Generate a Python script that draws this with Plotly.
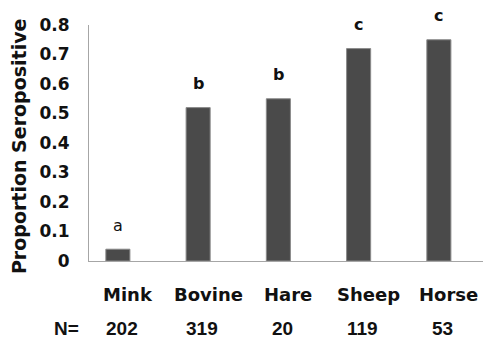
import plotly.graph_objects as go

# ---- data ----
categories = ["Mink", "Bovine", "Hare", "Sheep", "Horse"]
proportions = [0.04, 0.52, 0.55, 0.72, 0.75]
group_letters = ["a", "b", "b", "c", "c"]
sample_sizes = ["202", "319", "20", "119", "53"]
y_ticks = [0, 0.1, 0.2, 0.3, 0.4, 0.5, 0.6, 0.7, 0.8]
y_ticktext = ["0", "0.1", "0.2", "0.3", "0.4", "0.5", "0.6", "0.7", "0.8"]

# ---- style ----
letter_weights = ["normal", "bold", "bold", "bold", "bold"]
BOLD = "DejaVu Sans"

fig = go.Figure()
fig.add_trace(go.Bar(
    x=categories, y=proportions,
    marker=dict(color="#4a4a4a", line=dict(color="#8a8a8a", width=1)),
    hoverinfo="skip",
))

annotations = []
for cat, val, let, w in zip(categories, proportions, group_letters, letter_weights):
    annotations.append(dict(
        x=cat, y=val, xref="x", yref="y", text=let, showarrow=False,
        yanchor="middle", yshift=24,
        font=dict(family=BOLD, size=16, color="#111111", weight=w),
    ))
for cat in categories:
    annotations.append(dict(
        x=cat, y=0, xref="x", yref="paper", text=cat, showarrow=False,
        yanchor="middle", yshift=-33, xshift=10,
        font=dict(family=BOLD, size=18, color="#111111", weight="bold"),
    ))
for cat, n in zip(categories, sample_sizes):
    annotations.append(dict(
        x=cat, y=0, xref="x", yref="paper", text=n, showarrow=False,
        yanchor="middle", yshift=-67, xshift=4, borderpad=0,
        font=dict(family="Liberation Sans", size=19, color="#111111", weight="bold"),
    ))
annotations.append(dict(
    x=-0.36, y=0, xref="x", yref="paper", text="N=", showarrow=False,
    yanchor="middle", yshift=-67, xshift=-23, borderpad=0,
    font=dict(family="Liberation Sans", size=19, color="#111111", weight="bold"),
))
annotations.append(dict(
    x=-0.1777, y=0.487, xref="paper", yref="paper", text="Proportion Seropositive",
    showarrow=False, textangle=-90, xanchor="center", yanchor="middle",
    font=dict(family=BOLD, size=19, color="#111111", weight="bold"),
))

fig.update_layout(
    width=483, height=339,
    margin=dict(l=89, r=0, t=25, b=78),
    paper_bgcolor="white", plot_bgcolor="white",
    showlegend=False, bargap=0.7,
    annotations=annotations,
    xaxis=dict(
        type="category", range=[-0.36, 4.55], showticklabels=False,
        showline=True, linecolor="#a6a6a6", linewidth=1, showgrid=False,
        zeroline=False, ticks="",
    ),
    yaxis=dict(
        range=[0, 0.8], tickvals=y_ticks, ticktext=y_ticktext,
        showline=True, linecolor="#a6a6a6", linewidth=1, showgrid=False,
        zeroline=False, ticks="", ticklabelstandoff=15,
        tickfont=dict(family=BOLD, size=17, color="#111111", weight="bold"),
    ),
)

fig.write_html("out.html", config={"displayModeBar": False},
               post_script="document.body.style.margin='0px';")
